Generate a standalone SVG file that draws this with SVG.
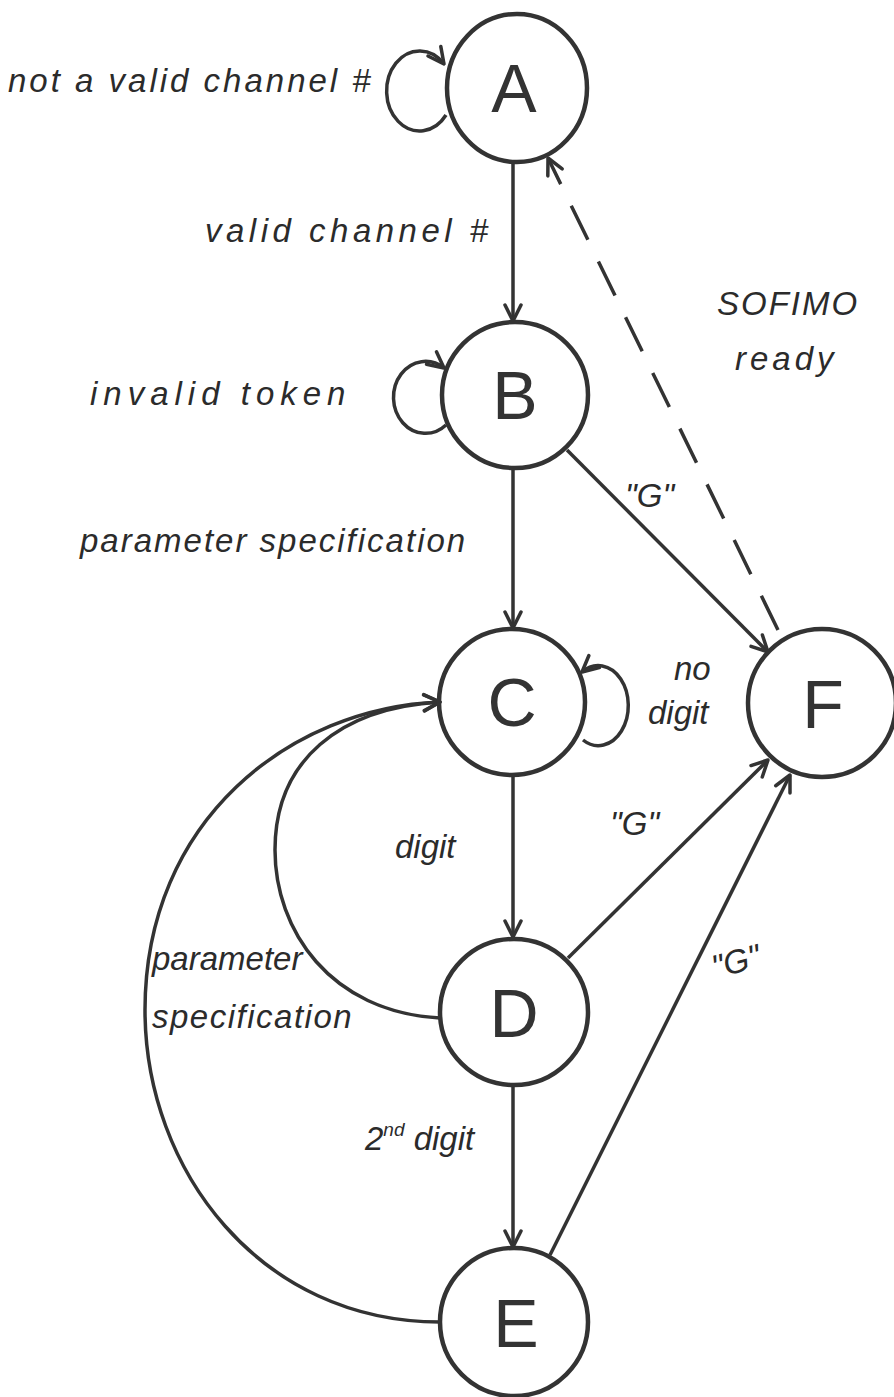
<svg xmlns="http://www.w3.org/2000/svg" width="894" height="1397" viewBox="0 0 894 1397">
<defs>
<marker id="arr" markerWidth="22" markerHeight="22" refX="20" refY="11" orient="auto" markerUnits="userSpaceOnUse">
<path d="M4,3 L20,11 L4,19" fill="none" stroke="#333" stroke-width="3.5" stroke-linecap="round" stroke-linejoin="round"/>
</marker>
</defs>
<style>
.node ellipse{fill:none;stroke:#333;stroke-width:4.5}
.node text{font-family:"Liberation Sans",Arial,sans-serif;font-size:68px;fill:#333;text-anchor:middle}
.edge{fill:none;stroke:#333;stroke-width:3.5;marker-end:url(#arr)}
.dash{stroke-dasharray:38 24}
.lbl{font-family:"Liberation Sans",Arial,sans-serif;font-style:italic;font-size:33px;fill:#2b2b2b}
</style>
<rect width="894" height="1397" fill="#fff"/>
<g id="connectors">
<line class="edge" x1="513" y1="162" x2="513" y2="321"/>
<line class="edge" x1="513" y1="468" x2="513" y2="628"/>
<line class="edge" x1="513" y1="775" x2="513" y2="937"/>
<line class="edge" x1="513" y1="1085" x2="513" y2="1247"/>
<line class="edge" x1="567" y1="450" x2="768" y2="652"/>
<line class="edge" x1="568" y1="958" x2="768" y2="760"/>
<line class="edge" x1="550" y1="1255" x2="790" y2="775"/>
<line class="edge dash" x1="778" y1="630" x2="548" y2="158"/>
<path class="edge" d="M446,115 A33,40 0 1 1 444,64"/>
<path class="edge" d="M446,425 A32,36 0 1 1 444,368"/>
<path class="edge" d="M583,740 A30,40 0 1 0 582,672"/>
<path class="edge" d="M440,1018 C330,1012 275,930 275,850 C275,760 340,708 440,702"/>
<path class="edge" d="M440,1322 C260,1322 145,1170 145,1010 C145,820 290,708 440,702"/>
</g>
<g id="A" class="node"><ellipse cx="517" cy="88" rx="70" ry="74"/><text x="514" y="112">A</text></g>
<g id="B" class="node"><ellipse cx="515" cy="395" rx="73" ry="73"/><text x="515" y="419">B</text></g>
<g id="C" class="node"><ellipse cx="512" cy="702" rx="73" ry="73"/><text x="512" y="726">C</text></g>
<g id="D" class="node"><ellipse cx="514" cy="1012" rx="74" ry="73"/><text x="514" y="1037">D</text></g>
<g id="E" class="node"><ellipse cx="514" cy="1322" rx="74" ry="74"/><text x="516" y="1347">E</text></g>
<g id="F" class="node"><ellipse cx="822" cy="703" rx="74" ry="74"/><text x="823" y="728">F</text></g>
<g id="labels">
<text class="lbl" x="8" y="92" letter-spacing="3">not a valid channel #</text>
<text class="lbl" x="205" y="242" letter-spacing="4.5">valid channel #</text>
<text class="lbl" x="717" y="315" letter-spacing="2">SOFIMO</text>
<text class="lbl" x="735" y="370" letter-spacing="4">ready</text>
<text class="lbl" x="90" y="405" letter-spacing="6">invalid token</text>
<text class="lbl" x="80" y="552" letter-spacing="2">parameter specification</text>
<text class="lbl" x="625" y="507" font-size="26">"G"</text>
<text class="lbl" x="674" y="680" font-size="18">no</text>
<text class="lbl" x="648" y="724" font-size="26">digit</text>
<text class="lbl" x="395" y="858">digit</text>
<text class="lbl" x="610" y="835" font-size="28">"G"</text>
<text class="lbl" x="152" y="970" font-size="24">parameter</text>
<text class="lbl" x="152" y="1028" font-size="36" letter-spacing="1.5">specification</text>
<text class="lbl" x="712" y="975" font-size="28" transform="rotate(-15 728 965)">"G"</text>
<text class="lbl" x="365" y="1150">2<tspan font-size="19" dy="-14">nd</tspan><tspan dy="14"> digit</tspan></text>
</g>
</svg>
